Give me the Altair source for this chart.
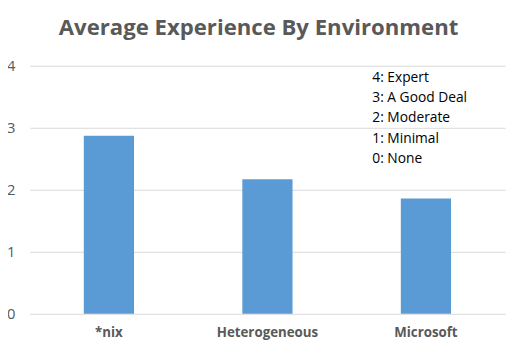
import altair as alt
import pandas as pd

categories = ["*nix", "Heterogeneous", "Microsoft"]
values = [2.87, 2.17, 1.86]
scale_notes = ["4: Expert", "3: A Good Deal", "2: Moderate", "1: Minimal", "0: None"]
y_ticks = [0, 1, 2, 3, 4]

df = pd.DataFrame({"env": categories, "avg": values})
FONT = "Open Sans"
GRAY = "#595959"

bars = alt.Chart(df).mark_bar(width=51, color="#5b9bd5").encode(
    x=alt.X("env:N", sort=categories, title=None,
            scale=alt.Scale(paddingInner=0, paddingOuter=0),
            axis=alt.Axis(labelAngle=0, labelFont=FONT, labelFontSize=13.5,
                          labelFontWeight="bold", labelColor=GRAY, domain=False,
                          ticks=False, labelPadding=12)),
    y=alt.Y("avg:Q", title=None, scale=alt.Scale(domain=[0, 4]),
            axis=alt.Axis(values=y_ticks, labelFont=FONT, labelFontSize=15,
                          labelColor=GRAY, domain=False, ticks=False,
                          labelPadding=15, gridColor="#d9d9d9", gridWidth=1)),
)

note = alt.Chart(pd.DataFrame({"t": [scale_notes]})).mark_text(
    align="left", baseline="top", font=FONT, fontSize=14, color="#000000",
    lineHeight=20.7,
).encode(x=alt.value(348), y=alt.value(5), text="t")

chart = (bars + note).properties(
    width=483, height=252,
    title=alt.Title("Average Experience By Environment", font=FONT, fontSize=22.5,
                    fontWeight="bold", color=GRAY, anchor="middle", offset=20, dx=-9),
    padding={"left": 22, "top": 56, "right": 12, "bottom": 30},
    autosize=alt.AutoSizeParams(type="none"),
).configure_view(stroke=None)

chart.save("out.html", embed_options={"renderer": "svg", "actions": False})
